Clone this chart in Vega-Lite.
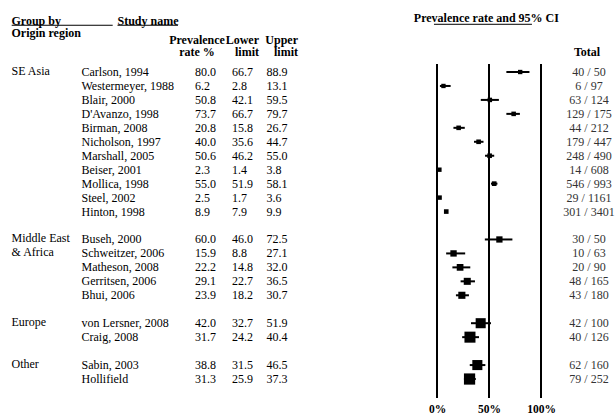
{
  "$schema": "https://vega.github.io/schema/vega-lite/v6.json",
  "padding": 0,
  "bounds": "flush",
  "spacing": 0,
  "config": {"view": {"stroke": null}, "font": "Liberation Serif", "text": {"fontSize": 12, "color": "black"}},
  "datasets": {
    "studies": [
      {"group": "SE Asia", "study": "Carlson, 1994", "prev": 80.0, "lower": 66.7, "upper": 88.9, "total": "40 / 50", "weight": 8.4, "row": 0},
      {"group": "SE Asia", "study": "Westermeyer, 1988", "prev": 6.2, "lower": 2.8, "upper": 13.1, "total": "6 / 97", "weight": 8.4, "row": 1},
      {"group": "SE Asia", "study": "Blair, 2000", "prev": 50.8, "lower": 42.1, "upper": 59.5, "total": "63 / 124", "weight": 9.0, "row": 2},
      {"group": "SE Asia", "study": "D'Avanzo, 1998", "prev": 73.7, "lower": 66.7, "upper": 79.7, "total": "129 / 175", "weight": 9.2, "row": 3},
      {"group": "SE Asia", "study": "Birman, 2008", "prev": 20.8, "lower": 15.8, "upper": 26.7, "total": "44 / 212", "weight": 9.3, "row": 4},
      {"group": "SE Asia", "study": "Nicholson, 1997", "prev": 40.0, "lower": 35.6, "upper": 44.7, "total": "179 / 447", "weight": 9.5, "row": 5},
      {"group": "SE Asia", "study": "Marshall, 2005", "prev": 50.6, "lower": 46.2, "upper": 55.0, "total": "248 / 490", "weight": 9.5, "row": 6},
      {"group": "SE Asia", "study": "Beiser, 2001", "prev": 2.3, "lower": 1.4, "upper": 3.8, "total": "14 / 608", "weight": 8.6, "row": 7},
      {"group": "SE Asia", "study": "Mollica, 1998", "prev": 55.0, "lower": 51.9, "upper": 58.1, "total": "546 / 993", "weight": 9.6, "row": 8},
      {"group": "SE Asia", "study": "Steel, 2002", "prev": 2.5, "lower": 1.7, "upper": 3.6, "total": "29 / 1161", "weight": 8.8, "row": 9},
      {"group": "SE Asia", "study": "Hinton, 1998", "prev": 8.9, "lower": 7.9, "upper": 9.9, "total": "301 / 3401", "weight": 9.5, "row": 10},
      {"group": "Middle East & Africa", "study": "Buseh, 2000", "prev": 60.0, "lower": 46.0, "upper": 72.5, "total": "30 / 50", "weight": 17.5, "row": 12},
      {"group": "Middle East & Africa", "study": "Schweitzer, 2006", "prev": 15.9, "lower": 8.8, "upper": 27.1, "total": "10 / 63", "weight": 18, "row": 13},
      {"group": "Middle East & Africa", "study": "Matheson, 2008", "prev": 22.2, "lower": 14.8, "upper": 32.0, "total": "20 / 90", "weight": 20, "row": 14},
      {"group": "Middle East & Africa", "study": "Gerritsen, 2006", "prev": 29.1, "lower": 22.7, "upper": 36.5, "total": "48 / 165", "weight": 22, "row": 15},
      {"group": "Middle East & Africa", "study": "Bhui, 2006", "prev": 23.9, "lower": 18.2, "upper": 30.7, "total": "43 / 180", "weight": 22.5, "row": 16},
      {"group": "Europe", "study": "von Lersner, 2008", "prev": 42.0, "lower": 32.7, "upper": 51.9, "total": "42 / 100", "weight": 45, "row": 18},
      {"group": "Europe", "study": "Craig, 2008", "prev": 31.7, "lower": 24.2, "upper": 40.4, "total": "40 / 126", "weight": 54, "row": 19},
      {"group": "Other", "study": "Sabin, 2003", "prev": 38.8, "lower": 31.5, "upper": 46.5, "total": "62 / 160", "weight": 45, "row": 21},
      {"group": "Other", "study": "Hollifield", "prev": 31.3, "lower": 25.9, "upper": 37.3, "total": "79 / 252", "weight": 56, "row": 22}
    ],
    "groups": [
      {"group": "SE Asia", "label": ["SE Asia"], "row": 0},
      {"group": "Middle East & Africa", "label": ["Middle East", "& Africa"], "row": 12},
      {"group": "Europe", "label": ["Europe"], "row": 18},
      {"group": "Other", "label": ["Other"], "row": 21}
    ],
    "refs": [{"pct": 0}, {"pct": 50}, {"pct": 100}],
    "one": [{}]
  },
  "hconcat": [
    {
      "width": 437,
      "height": 398,
      "layer": [
        {"data": {"name": "groups"}, "mark": {"type": "text", "align": "left", "baseline": "top", "dy": -6, "lineHeight": 14, "x": 11.5},
         "encoding": {"y": {"field": "row", "type": "quantitative", "scale": {"domain": [-5.16, 23.36], "reverse": true, "nice": false, "zero": false}, "axis": null}, "text": {"field": "label", "type": "nominal"}}},
        {"data": {"name": "studies"}, "mark": {"type": "text", "align": "left", "baseline": "middle", "x": 81.5},
         "encoding": {"y": {"field": "row", "type": "quantitative", "scale": {"domain": [-5.16, 23.36], "reverse": true, "nice": false, "zero": false}, "axis": null}, "text": {"field": "study", "type": "nominal"}}},
        {"data": {"name": "studies"}, "mark": {"type": "text", "align": "left", "baseline": "middle", "x": 195},
         "encoding": {"y": {"field": "row", "type": "quantitative", "scale": {"domain": [-5.16, 23.36], "reverse": true, "nice": false, "zero": false}, "axis": null}, "text": {"field": "prev", "type": "quantitative", "format": ".1f"}}},
        {"data": {"name": "studies"}, "mark": {"type": "text", "align": "left", "baseline": "middle", "x": 232},
         "encoding": {"y": {"field": "row", "type": "quantitative", "scale": {"domain": [-5.16, 23.36], "reverse": true, "nice": false, "zero": false}, "axis": null}, "text": {"field": "lower", "type": "quantitative", "format": ".1f"}}},
        {"data": {"name": "studies"}, "mark": {"type": "text", "align": "left", "baseline": "middle", "x": 266.5},
         "encoding": {"y": {"field": "row", "type": "quantitative", "scale": {"domain": [-5.16, 23.36], "reverse": true, "nice": false, "zero": false}, "axis": null}, "text": {"field": "upper", "type": "quantitative", "format": ".1f"}}},
        {"data": {"name": "one"}, "mark": {"type": "text", "text": "Group by", "fontWeight": "bold", "align": "left", "baseline": "middle", "x": 11.5},
         "encoding": {"y": {"datum": -3.69, "type": "quantitative", "scale": {"domain": [-5.16, 23.36], "reverse": true, "nice": false, "zero": false}, "axis": null}}},
        {"data": {"name": "one"}, "mark": {"type": "text", "text": "Origin region", "fontWeight": "bold", "align": "left", "baseline": "middle", "x": 11.5},
         "encoding": {"y": {"datum": -2.79, "type": "quantitative", "scale": {"domain": [-5.16, 23.36], "reverse": true, "nice": false, "zero": false}, "axis": null}}},
        {"data": {"name": "one"}, "mark": {"type": "text", "text": "Study name", "fontWeight": "bold", "align": "left", "baseline": "middle", "x": 117.5},
         "encoding": {"y": {"datum": -3.69, "type": "quantitative", "scale": {"domain": [-5.16, 23.36], "reverse": true, "nice": false, "zero": false}, "axis": null}}},
        {"data": {"name": "one"}, "mark": {"type": "text", "text": ["Prevalence", "rate %"], "fontWeight": "bold", "align": "center", "baseline": "top", "dy": -6.7, "lineHeight": 12.6, "x": 197},
         "encoding": {"y": {"datum": -2.19, "type": "quantitative", "scale": {"domain": [-5.16, 23.36], "reverse": true, "nice": false, "zero": false}, "axis": null}}},
        {"data": {"name": "one"}, "mark": {"type": "text", "text": ["Lower", "limit"], "fontWeight": "bold", "align": "right", "baseline": "top", "dy": -6.7, "lineHeight": 12.6, "x": 259},
         "encoding": {"y": {"datum": -2.19, "type": "quantitative", "scale": {"domain": [-5.16, 23.36], "reverse": true, "nice": false, "zero": false}, "axis": null}}},
        {"data": {"name": "one"}, "mark": {"type": "text", "text": ["Upper", "limit"], "fontWeight": "bold", "align": "right", "baseline": "top", "dy": -6.7, "lineHeight": 12.6, "x": 298},
         "encoding": {"y": {"datum": -2.19, "type": "quantitative", "scale": {"domain": [-5.16, 23.36], "reverse": true, "nice": false, "zero": false}, "axis": null}}},
        {"data": {"name": "one"}, "mark": {"type": "rule", "strokeWidth": 1, "color": "black", "x": 11.7, "x2": 112.7},
         "encoding": {"y": {"datum": -3.35, "type": "quantitative", "scale": {"domain": [-5.16, 23.36], "reverse": true, "nice": false, "zero": false}, "axis": null}}},
        {"data": {"name": "one"}, "mark": {"type": "rule", "strokeWidth": 1, "color": "black", "x": 117.5, "x2": 178},
         "encoding": {"y": {"datum": -3.35, "type": "quantitative", "scale": {"domain": [-5.16, 23.36], "reverse": true, "nice": false, "zero": false}, "axis": null}}}
      ]
    },
    {
      "width": 104,
      "height": 398,
      "layer": [
        {"data": {"name": "refs"}, "mark": {"type": "rule", "strokeWidth": 2, "color": "black"},
         "encoding": {
           "x": {"field": "pct", "type": "quantitative", "scale": {"domain": [0, 100], "nice": false, "zero": false}, "axis": {"values": [0, 50, 100], "labelExpr": "datum.value + '%'", "domain": false, "ticks": false, "grid": false, "labelFontWeight": "bold", "labelFontSize": 11.5, "labelColor": "black", "labelPadding": 5, "labelFlush": false, "labelOverlap": false, "labelFont": "Liberation Serif", "title": null}},
           "y": {"datum": -0.573, "type": "quantitative", "scale": {"domain": [-5.16, 23.36], "reverse": true, "nice": false, "zero": false}, "axis": null},
           "y2": {"datum": 23.36}}},
        {"data": {"name": "studies"}, "mark": {"type": "rule", "strokeWidth": 2, "color": "black"},
         "encoding": {
           "x": {"field": "lower", "type": "quantitative", "scale": {"domain": [0, 100], "nice": false, "zero": false}, "axis": {"values": [0, 50, 100], "labelExpr": "datum.value + '%'", "domain": false, "ticks": false, "grid": false, "labelFontWeight": "bold", "labelFontSize": 11.5, "labelColor": "black", "labelPadding": 5, "labelFlush": false, "labelOverlap": false, "labelFont": "Liberation Serif", "title": null}},
           "x2": {"field": "upper"},
           "y": {"field": "row", "type": "quantitative", "scale": {"domain": [-5.16, 23.36], "reverse": true, "nice": false, "zero": false}, "axis": null}}},
        {"data": {"name": "studies"}, "mark": {"type": "point", "shape": "square", "filled": true, "color": "black", "opacity": 1, "strokeWidth": 0},
         "encoding": {
           "x": {"field": "prev", "type": "quantitative", "scale": {"domain": [0, 100], "nice": false, "zero": false}, "axis": {"values": [0, 50, 100], "labelExpr": "datum.value + '%'", "domain": false, "ticks": false, "grid": false, "labelFontWeight": "bold", "labelFontSize": 11.5, "labelColor": "black", "labelPadding": 5, "labelFlush": false, "labelOverlap": false, "labelFont": "Liberation Serif", "title": null}},
           "y": {"field": "row", "type": "quantitative", "scale": {"domain": [-5.16, 23.36], "reverse": true, "nice": false, "zero": false}, "axis": null},
           "size": {"field": "weight", "type": "quantitative", "scale": {"type": "linear", "domain": [0, 100], "range": [0, 225], "zero": true}, "legend": null}}},
        {"data": {"name": "one"}, "mark": {"type": "text", "text": "Prevalence rate and 95% CI", "fontWeight": "bold", "align": "center", "baseline": "middle"},
         "encoding": {
           "x": {"datum": 47.5, "type": "quantitative", "scale": {"domain": [0, 100], "nice": false, "zero": false}, "axis": {"values": [0, 50, 100], "labelExpr": "datum.value + '%'", "domain": false, "ticks": false, "grid": false, "labelFontWeight": "bold", "labelFontSize": 11.5, "labelColor": "black", "labelPadding": 5, "labelFlush": false, "labelOverlap": false, "labelFont": "Liberation Serif", "title": null}},
           "y": {"datum": -3.9, "type": "quantitative", "scale": {"domain": [-5.16, 23.36], "reverse": true, "nice": false, "zero": false}, "axis": null}}},
        {"data": {"name": "one"}, "mark": {"type": "rule", "strokeWidth": 1, "color": "black"},
         "encoding": {
           "x": {"datum": -2.9, "type": "quantitative", "scale": {"domain": [0, 100], "nice": false, "zero": false}, "axis": {"values": [0, 50, 100], "labelExpr": "datum.value + '%'", "domain": false, "ticks": false, "grid": false, "labelFontWeight": "bold", "labelFontSize": 11.5, "labelColor": "black", "labelPadding": 5, "labelFlush": false, "labelOverlap": false, "labelFont": "Liberation Serif", "title": null}},
           "x2": {"datum": 91.3},
           "y": {"datum": -3.42, "type": "quantitative", "scale": {"domain": [-5.16, 23.36], "reverse": true, "nice": false, "zero": false}, "axis": null}}}
      ]
    },
    {
      "width": 75,
      "height": 398,
      "layer": [
        {"data": {"name": "studies"}, "mark": {"type": "text", "align": "center", "baseline": "middle", "x": 48, "color": "#333333"},
         "encoding": {"y": {"field": "row", "type": "quantitative", "scale": {"domain": [-5.16, 23.36], "reverse": true, "nice": false, "zero": false}, "axis": null}, "text": {"field": "total", "type": "nominal"}}},
        {"data": {"name": "one"}, "mark": {"type": "text", "text": "Total", "fontWeight": "bold", "align": "center", "baseline": "middle", "x": 46},
         "encoding": {"y": {"datum": -1.4, "type": "quantitative", "scale": {"domain": [-5.16, 23.36], "reverse": true, "nice": false, "zero": false}, "axis": null}}}
      ]
    }
  ]
}
